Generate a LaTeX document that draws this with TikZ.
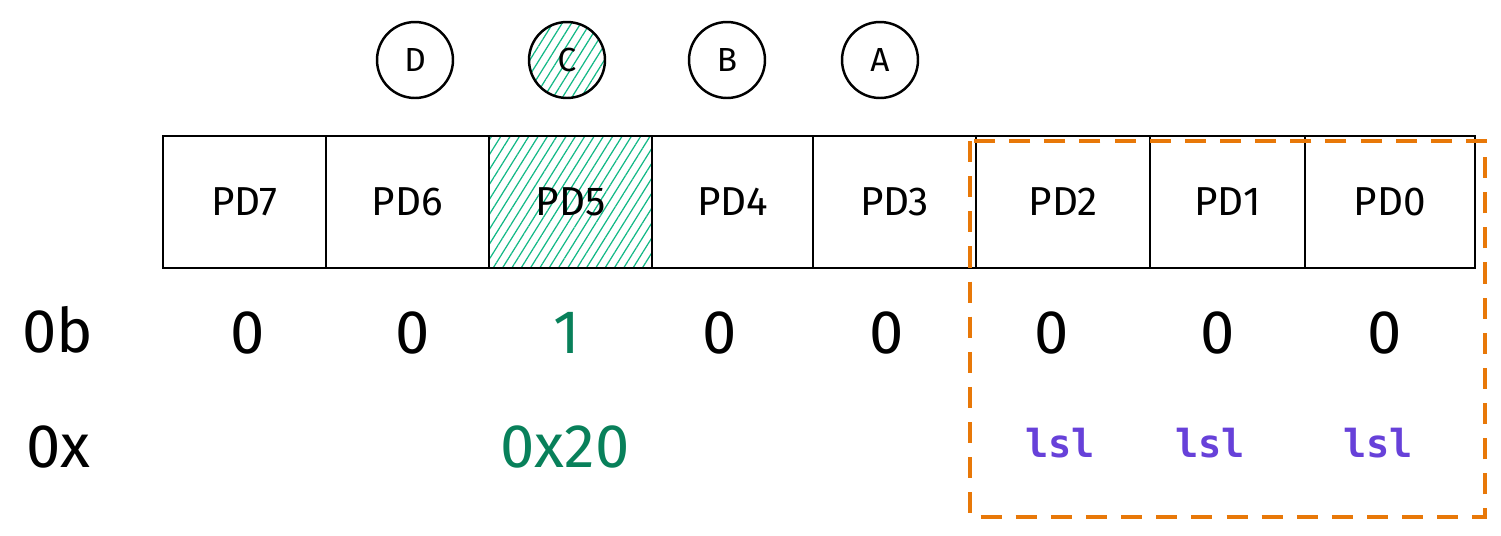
\documentclass[tikz,border=0pt]{standalone}
\usepackage{fontspec}
\setmainfont{Fira Sans}
\newfontfamily\codefont{DejaVu Sans Mono}
\usepackage{tikz}
\usetikzlibrary{patterns.meta, positioning}
\definecolor{bitgreen}{RGB}{8,128,90}
\definecolor{hatchgreen}{RGB}{18,184,134}
\definecolor{shiftpurple}{RGB}{103,65,217}
\definecolor{maskorange}{RGB}{232,120,8}

\begin{document}
\begin{tikzpicture}[
    x=0.02cm, y=-0.02cm,
    cell/.style={draw, line width=1.4pt, minimum height=2.64cm, inner sep=0pt, outer sep=0pt, font=\fontsize{23}{26}\selectfont},
    pin/.style={draw, circle, line width=1.4pt, minimum size=1.52cm, inner sep=0pt, font=\fontsize{19}{21}\selectfont},
    bit/.style={font=\fontsize{35}{38}\selectfont},
    shiftop/.style={text=shiftpurple, font=\codefont\bfseries\fontsize{22}{24}\selectfont},
    hatched/.style={pattern={Lines[angle=58,distance=4.5pt,line width=0.7pt]}, pattern color=hatchgreen},
]
    \useasboundingbox (0,0) rectangle (1501,535);

    % Pins
    \node[pin] (pinD) at (415,60) {D};
    \node[pin, hatched] (pinC) at (567,60) {C};
    \node[pin] (pinB) at (727,60) {B};
    \node[pin] (pinA) at (880,60) {A};

    % Port register
    \node[cell, minimum width=3.26cm] (pd7) at (244.5,202) {PD7};
    \node[cell, minimum width=3.26cm] (pd6) at (407.5,202) {PD6};
    \node[cell, minimum width=3.26cm, hatched] (pd5) at (570.5,202) {PD5};
    \node[cell, minimum width=3.22cm] (pd4) at (732.5,202) {PD4};
    \node[cell, minimum width=3.26cm] (pd3) at (894.5,202) {PD3};
    \node[cell, minimum width=3.48cm] (pd2) at (1063,202) {PD2};
    \node[cell, minimum width=3.10cm] (pd1) at (1227.5,202) {PD1};
    \node[cell, minimum width=3.40cm] (pd0) at (1390,202) {PD0};

    % Binary row
    \node[bit] (binlabel) at (58,330) {0b};
    \node[bit] (b7) at (248,333) {0};
    \node[bit] (b6) at (413,333) {0};
    \node[bit, text=bitgreen] (b5) at (567,333) {1};
    \node[bit] (b4) at (720,333) {0};
    \node[bit] (b3) at (887,333) {0};
    \node[bit] (b2) at (1052,333) {0};
    \node[bit] (b1) at (1218,333) {0};
    \node[bit] (b0) at (1385,333) {0};

    % Hex row
    \node[bit] (hexlabel) at (58,447) {0x};
    \node[bit, text=bitgreen] (hexvalue) at (565,447) {0x20};
    \node[shiftop] (lsl2) at (1060,443) {lsl};
    \node[shiftop] (lsl1) at (1210,443) {lsl};
    \node[shiftop] (lsl0) at (1378,443) {lsl};

    % Shifted bits
    \draw[maskorange, line width=1.8pt, dash pattern=on 12pt off 8pt] (970,141) rectangle (1485,517);
\end{tikzpicture}
\end{document}
